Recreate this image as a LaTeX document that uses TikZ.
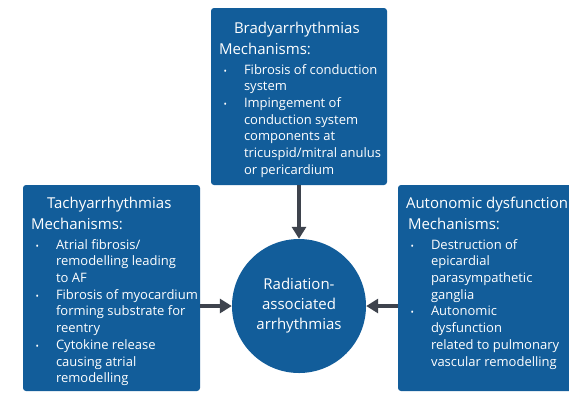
\documentclass[tikz,border=0pt]{standalone}
\usepackage{fontspec}
\setmainfont{Open Sans}
\usepackage{enumitem}
\setlist[itemize]{label={\small\textbullet}, leftmargin=25pt,
  labelsep=17pt, itemsep=0pt, parsep=0pt, topsep=3pt, partopsep=0pt}
\usetikzlibrary{arrows.meta, positioning}
\definecolor{boxblue}{RGB}{18,93,154}
\definecolor{arrowgray}{RGB}{62,67,77}
\newcommand{\headsize}{\fontsize{15}{21}\selectfont}
\newcommand{\itemsize}{\fontsize{13}{16.7}\selectfont}

\begin{document}
\begin{tikzpicture}[x=1pt, y=-1pt,
    mechbox/.style={fill=boxblue, rounded corners=3pt, inner sep=0pt, text=white},
    link/.style={draw=arrowgray, line width=4pt, -{Triangle[length=12pt,width=14pt]}}]
    \useasboundingbox (0,0) rectangle (569,392);
    \clip (0,0) rectangle (569,392);
    \fill[white] (0,0) rectangle (569,392);

    % mechanism boxes (text may run to the box edge)
    \node[mechbox, minimum width=176pt, minimum height=177pt] (brady) at (299,96.5) {
        \makebox[160pt][l]{\begin{minipage}[c][149pt][t]{185pt}
        \raggedright
        {\headsize\hspace*{15pt}Bradyarrhythmias\\ Mechanisms:\par}
        \itemsize
        \begin{itemize}
            \item Fibrosis of conduction\newline system
            \item Impingement of\newline conduction system\newline components at\newline tricuspid/mitral anulus\newline or pericardium
        \end{itemize}
        \end{minipage}}
    };
    \node[mechbox, minimum width=177pt, minimum height=206pt] (tachy) at (111.5,288) {
        \makebox[161pt][l]{\begin{minipage}[c][182pt][t]{185pt}
        \raggedright
        {\headsize\hspace*{16pt}Tachyarrhythmias\\ Mechanisms:\par}
        \itemsize
        \begin{itemize}
            \item Atrial fibrosis/\newline remodelling leading\newline to AF
            \item Fibrosis of myocardium\newline forming substrate for\newline reentry
            \item Cytokine release\newline causing atrial\newline remodelling
        \end{itemize}
        \end{minipage}}
    };
    \node[mechbox, minimum width=177pt, minimum height=206pt] (auton) at (486.5,288) {
        \makebox[161pt][l]{\begin{minipage}[c][182pt][t]{185pt}
        \raggedright
        {\headsize Autonomic dysfunction\\ \hspace*{2pt}Mechanisms:\par}
        \itemsize
        \begin{itemize}
            \item Destruction of\newline epicardial\newline parasympathetic\newline ganglia
            \item Autonomic\newline dysfunction\newline related to pulmonary\newline vascular remodelling
        \end{itemize}
        \end{minipage}}
    };

    % centre
    \node[circle, fill=boxblue, minimum size=134pt, inner sep=0pt, text=white,
          align=center, font=\fontsize{15}{20}\selectfont] (radarr) at (299,306)
          {Radiation-\\associated\\arrhythmias};

    \draw[link] (brady) -- (radarr);
    \draw[link] (tachy.east |- radarr) -- (radarr);
    \draw[link] (auton.west |- radarr) -- (radarr);
\end{tikzpicture}
\end{document}
